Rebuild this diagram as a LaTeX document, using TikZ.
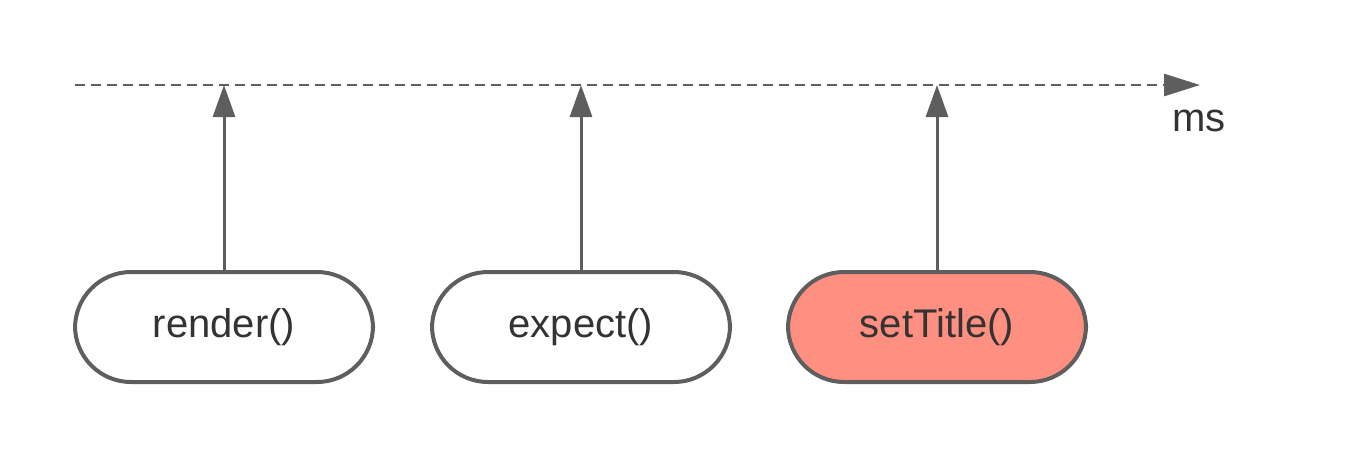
\documentclass[tikz,border=0pt]{standalone}
\usepackage{fontspec}
\setmainfont{Liberation Sans}
\usetikzlibrary{arrows.meta}
\definecolor{strokegray}{HTML}{5E5E5E}
\definecolor{txtgray}{HTML}{333333}
\definecolor{salmon}{HTML}{FF8F80}
\begin{document}
\begin{tikzpicture}[x=1pt,y=-1pt,
  pill/.style={draw=strokegray,line width=4pt,rounded corners=56pt,minimum width=298pt,minimum height=110pt,inner sep=0pt,fill=white,
    font=\fontsize{40}{48}\selectfont,text=txtgray},
  uparrow/.style={draw=strokegray,line width=3pt,-{Triangle[length=32pt,width=22pt]}},
  axis/.style={draw=strokegray,line width=2.8pt,dash pattern=on 10pt off 6pt,-{Triangle[length=36pt,width=22pt]}}]
\useasboundingbox (0,0) rectangle (1350,459);
\coordinate (a0) at (75,85);
\coordinate (a1) at (1200,85);
\draw[axis] (a0) -- (a1);
\node[pill] (render) at (224,327) {render()};
\node[pill] (expect) at (581,327) {expect()};
\node[pill,fill=salmon] (settitle) at (937,327) {setTitle()};
\coordinate (t1) at (224,85);
\coordinate (t2) at (581,85);
\coordinate (t3) at (937,85);
\draw[uparrow] (render.north) -- (t1);
\draw[uparrow] (expect.north) -- (t2);
\draw[uparrow] (settitle.north) -- (t3);
\node[font=\fontsize{40}{48}\selectfont,text=txtgray,anchor=base west,inner sep=0pt] (ms) at (1172,131) {ms};
\end{tikzpicture}
\end{document}
